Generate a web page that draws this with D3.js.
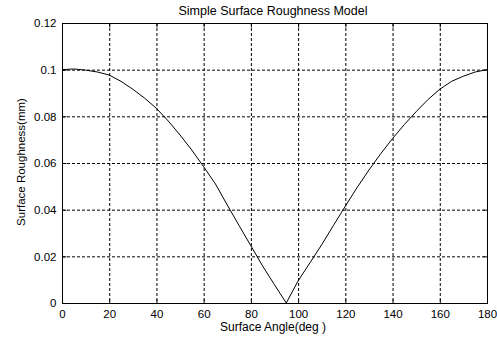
<!DOCTYPE html>
<html>
<head>
<meta charset="utf-8">
<script src="https://cdn.jsdelivr.net/npm/d3@7"></script>
<style>
  body { margin: 0; background: #fff; }
  text { font-family: "Liberation Sans", Arial, sans-serif; fill: #000; }
</style>
</head>
<body>
<svg id="chart"></svg>
<script>
// surface angle (deg) and roughness (mm)
const angles = [0, 5, 10, 15, 20, 25, 30, 35, 40, 45, 50, 55, 60, 65, 70, 75, 80, 85, 90, 95,
  100, 105, 110, 115, 120, 125, 130, 135, 140, 145, 150, 155, 160, 165, 170, 175, 180];
const roughness = [0.1, 0.1003, 0.0998, 0.099, 0.0977, 0.095, 0.0916, 0.0878, 0.0834, 0.078,
  0.072, 0.0655, 0.0584, 0.051, 0.042, 0.0332, 0.0245, 0.0158, 0.0078, 0.0,
  0.0095, 0.0172, 0.025, 0.0333, 0.0415, 0.0495, 0.057, 0.064, 0.0705, 0.0765,
  0.082, 0.0872, 0.0916, 0.095, 0.0972, 0.099, 0.1];
const xTicks = [0, 20, 40, 60, 80, 100, 120, 140, 160, 180];
const yTicks = [0, 0.02, 0.04, 0.06, 0.08, 0.1, 0.12];

let w = 497;
let h = 338;
let mLeft = 62, mRight = 487, mTop = 23, mBottom = 303;

let chart = d3.select('#chart')
  .attr('width', w)
  .attr('height', h);

let x = d3.scaleLinear().domain([0, 180]).range([mLeft, mRight]);
let y = d3.scaleLinear().domain([0, 0.12]).range([mBottom, mTop]);

// grid
chart.append('g')
  .selectAll('line')
  .data(xTicks.slice(1, -1))
  .enter()
  .append('line')
  .attr('x1', d => x(d) + 0.5).attr('x2', d => x(d) + 0.5)
  .attr('y1', mTop).attr('y2', mBottom)
  .style('stroke', '#000')
  .style('stroke-dasharray', '3,2');

chart.append('g')
  .selectAll('line')
  .data(yTicks.slice(1, -1))
  .enter()
  .append('line')
  .attr('y1', d => y(d) + 0.5).attr('y2', d => y(d) + 0.5)
  .attr('x1', mLeft).attr('x2', mRight)
  .style('stroke', '#000')
  .style('stroke-dasharray', '3,2');

// axes with inward ticks
let fmt = d => d === 0 ? '0' : String(+d.toFixed(2));
chart.append('g')
  .attr('transform', `translate(0,${mBottom + 0.5})`)
  .call(d3.axisBottom(x).tickValues(xTicks).tickSize(-4).tickPadding(6).tickFormat(d3.format('d')))
  .call(g => g.select('.domain').remove())
  .call(g => g.selectAll('text').style('font-size', '11.5px'));

chart.append('g')
  .attr('transform', `translate(0,${mTop + 0.5})`)
  .call(d3.axisTop(x).tickValues(xTicks).tickSize(-4).tickFormat(''))
  .call(g => g.select('.domain').remove());

chart.append('g')
  .attr('transform', `translate(${mLeft + 0.5},0)`)
  .call(d3.axisLeft(y).tickValues(yTicks).tickSize(-4).tickPadding(6).tickFormat(fmt))
  .call(g => g.select('.domain').remove())
  .call(g => g.selectAll('text').style('font-size', '11.5px'));

chart.append('g')
  .attr('transform', `translate(${mRight + 0.5},0)`)
  .call(d3.axisRight(y).tickValues(yTicks).tickSize(-4).tickFormat(''))
  .call(g => g.select('.domain').remove());

chart.append('rect')
  .attr('x', mLeft + 0.5).attr('y', mTop + 0.5)
  .attr('width', mRight - mLeft).attr('height', mBottom - mTop)
  .style('fill', 'none')
  .style('stroke', '#000');

// curve
let line = d3.line()
  .x((d, i) => x(angles[i]))
  .y(d => y(d));

chart.append('path')
  .datum(roughness)
  .attr('d', line)
  .style('fill', 'none')
  .style('stroke', '#000')
  .style('stroke-width', 1);

// labels
chart.append('text')
  .attr('x', 273).attr('y', 15)
  .attr('text-anchor', 'middle')
  .style('font-size', '12.5px')
  .text('Simple Surface Roughness Model');

chart.append('text')
  .attr('x', 273).attr('y', 331)
  .attr('text-anchor', 'middle')
  .style('font-size', '12px')
  .text('Surface Angle(deg )');

chart.append('text')
  .attr('transform', 'translate(25,162) rotate(-90)')
  .attr('text-anchor', 'middle')
  .style('font-size', '11.5px')
  .text('Surface Roughness(mm)');
</script>
</body>
</html>
